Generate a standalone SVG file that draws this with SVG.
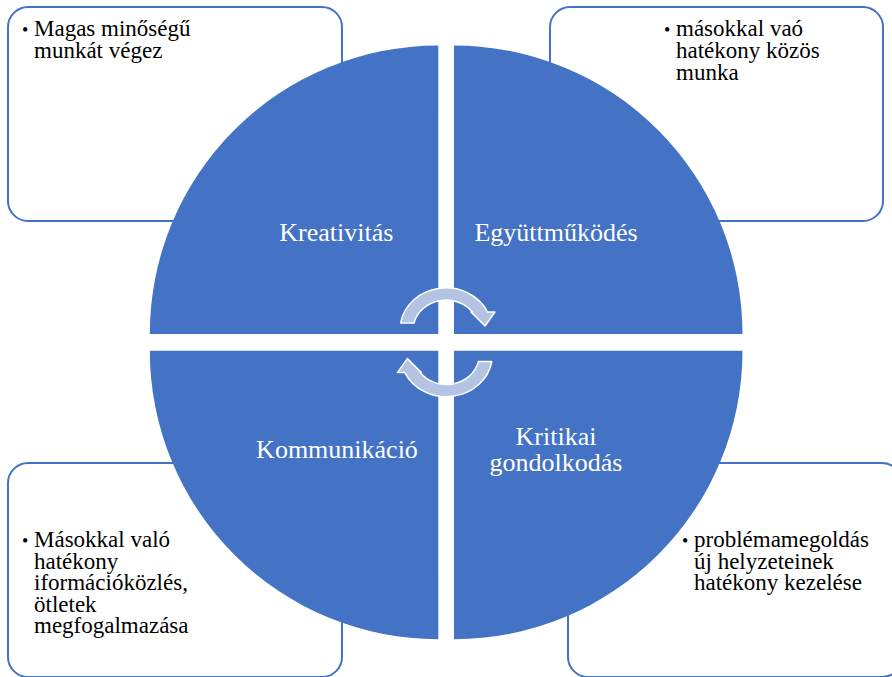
<svg xmlns="http://www.w3.org/2000/svg" width="892" height="677" viewBox="0 0 892 677">
<style>
.box{fill:#FFFFFF;stroke:#4472C4;stroke-width:2}
.quad{fill:#4472C4}
.arrow{fill:#B4C3E4;stroke:#FFFFFF;stroke-width:1.5;stroke-linejoin:round}
.lbl{font-family:"Liberation Serif","Times New Roman",serif;font-size:26px;fill:#FFFFFF;text-anchor:middle}
.txt{font-family:"Liberation Serif","Times New Roman",serif;font-size:23px;fill:#000000}
.bul{font-size:18px}
</style>
<rect width="892" height="677" fill="#FFFFFF"/>
<g id="box-tl">
<rect class="box" x="8" y="7" width="334" height="214" rx="20" ry="20"/>
<text class="txt" x="22" y="36"><tspan class="bul">•</tspan><tspan x="34" y="36">Magas minőségű</tspan><tspan x="34" y="57.5">munkát végez</tspan></text>
</g>
<g id="box-tr">
<rect class="box" x="550" y="7" width="333" height="214" rx="20" ry="20"/>
<text class="txt" x="664" y="36"><tspan class="bul">•</tspan><tspan x="676" y="36">másokkal vaó</tspan><tspan x="676" y="58">hatékony közös</tspan><tspan x="676" y="80">munka</tspan></text>
</g>
<g id="box-bl">
<rect class="box" x="8" y="463" width="334" height="214" rx="20" ry="20"/>
<text class="txt" x="22" y="547"><tspan class="bul">•</tspan><tspan x="34" y="547">Másokkal való</tspan><tspan x="34" y="568.5">hatékony</tspan><tspan x="34" y="590">iformációközlés,</tspan><tspan x="34" y="611.7">ötletek</tspan><tspan x="34" y="633.3">megfogalmazása</tspan></text>
</g>
<g id="box-br">
<rect class="box" x="568" y="463" width="334" height="214" rx="20" ry="20"/>
<text class="txt" x="682" y="547"><tspan class="bul">•</tspan><tspan x="694" y="547">problémamegoldás</tspan><tspan x="694" y="568.5">új helyzeteinek</tspan><tspan x="694" y="590">hatékony kezelése</tspan></text>
</g>
<g id="q-kreativitas">
<path class="quad" d="M438.3,334 L149.8,334 A288.5,288.5 0 0 1 438.3,45.5 Z"/>
<text class="lbl" x="336.3" y="240.7">Kreativitás</text>
</g>
<g id="q-egyuttmukodes">
<path class="quad" d="M454,334 L454,45.5 A288.5,288.5 0 0 1 742.5,334 Z"/>
<text class="lbl" x="556" y="240.7">Együttműködés</text>
</g>
<g id="q-kommunikacio">
<path class="quad" d="M438.3,350.7 L438.3,639.2 A288.5,288.5 0 0 1 149.8,350.7 Z"/>
<text class="lbl" x="337" y="458">Kommunikáció</text>
</g>
<g id="q-kritikai">
<path class="quad" d="M454,350.7 L742.5,350.7 A288.5,288.5 0 0 1 454,639.2 Z"/>
<text class="lbl" x="556" y="444.5"><tspan x="556" y="444.5">Kritikai</tspan><tspan x="556" y="470.5">gondolkodás</tspan></text>
</g>
<g id="connectors">
<path id="arrow-top" class="arrow" d="M400.6,323 A46,42 0 0 1 487.6,312 L495,312 L485,326 L471,312 L472.4,312 A33,30 0 0 0 414,323 Z"/>
<path id="arrow-bottom" class="arrow" transform="rotate(180 446.2 342.3)" d="M400.6,323 A46,42 0 0 1 487.6,312 L495,312 L485,326 L471,312 L472.4,312 A33,30 0 0 0 414,323 Z"/>
</g>
</svg>
